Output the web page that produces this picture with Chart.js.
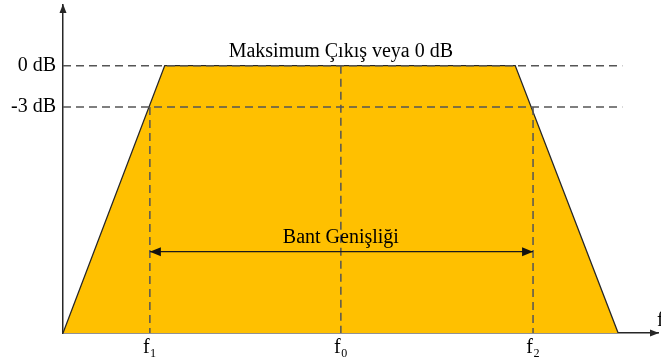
<!DOCTYPE html>
<html>
<head>
<meta charset="utf-8">
<script src="https://cdn.jsdelivr.net/npm/chart.js@4/dist/chart.umd.min.js"></script>
<style>
  html, body { margin: 0; padding: 0; background: #fff; }
  canvas { display: block; }
</style>
</head>
<body>
<canvas id="chart" width="661" height="362"></canvas>
<script>
// response shape: x in frequency units, y in dB
let shapeX = [0, 17.1, 76.0, 93.3];
let shapeY = [-19.4, 0, 0, -19.4];

// level lines
let levelDb = [0, -3];
let levelLabels = ["0 dB", "-3 dB"];
let levelEnd = 94;

// frequency markers
let freqX = [14.6, 46.7, 79.0];
let freqLabels = ["f₁", "f₀", "f₂"];
let freqTop = [-3, 0, -3];

// bandwidth arrow height
let bandY = -13.5;

let yMin = -19.4, yMax = 4.4, xMax = 100;

let serif = "'Liberation Serif', 'Times New Roman', serif";
let dashCol = "#555555";
let lineCol = "#262626";

let datasets = [];

// bandwidth arrow shaft
datasets.push({
  data: [{x: freqX[0], y: bandY}, {x: freqX[2], y: bandY}],
  borderColor: "#1a1a1a", borderWidth: 1.3
});

levelDb.forEach(l => {
  datasets.push({
    data: [{x: 0, y: l}, {x: levelEnd, y: l}],
    borderColor: dashCol, borderWidth: 1.5, borderDash: [8, 5]
  });
});

freqX.forEach((f, i) => {
  datasets.push({
    data: [{x: f, y: freqTop[i]}, {x: f, y: yMin}],
    borderColor: dashCol, borderWidth: 1.5, borderDash: [8, 5]
  });
});

// trapezoid last so it is drawn underneath
datasets.push({
  data: shapeX.map((x, i) => ({x: x, y: shapeY[i]})),
  borderColor: lineCol, borderWidth: 1.3,
  backgroundColor: "#FFC000",
  fill: "start"
});

datasets.forEach(d => {
  d.showLine = true;
  d.pointRadius = 0;
  d.pointHoverRadius = 0;
});

function arrow(ctx, x, y, dir, len, half) {
  ctx.beginPath();
  if (dir === "up") {
    ctx.moveTo(x, y); ctx.lineTo(x - half, y + len); ctx.lineTo(x + half, y + len);
  } else if (dir === "right") {
    ctx.moveTo(x, y); ctx.lineTo(x - len, y - half); ctx.lineTo(x - len, y + half);
  } else {
    ctx.moveTo(x, y); ctx.lineTo(x + len, y - half); ctx.lineTo(x + len, y + half);
  }
  ctx.closePath();
  ctx.fill();
}

let notes = {
  id: "notes",
  afterDraw(chart) {
    let ctx = chart.ctx;
    let xs = chart.scales.x, ys = chart.scales.y;
    let a = chart.chartArea;
    ctx.save();
    ctx.fillStyle = lineCol;
    arrow(ctx, a.left, a.top - 1, "up", 9, 3.5);
    arrow(ctx, a.right + 1, a.bottom, "right", 9, 3.5);

    ctx.fillStyle = "#111";
    let by = ys.getPixelForValue(bandY);
    arrow(ctx, xs.getPixelForValue(freqX[0]), by, "left", 11, 4.5);
    arrow(ctx, xs.getPixelForValue(freqX[2]), by, "right", 11, 4.5);

    ctx.fillStyle = "#000";
    ctx.font = "20px " + serif;
    ctx.textAlign = "center";
    ctx.textBaseline = "alphabetic";
    let cx = xs.getPixelForValue(freqX[1]);
    ctx.fillText("Maksimum Çıkış veya 0 dB", cx, ys.getPixelForValue(0) - 9);
    ctx.fillText("Bant Genişliği", cx, by - 9);

    ctx.textAlign = "left";
    ctx.fillText("f", a.right - 1, a.bottom - 7);
    ctx.restore();
  }
};

new Chart(document.getElementById("chart"), {
  type: "scatter",
  data: {datasets: datasets},
  plugins: [notes],
  options: {
    responsive: false,
    animation: false,
    devicePixelRatio: 1,
    layout: {padding: {top: 5, right: 3, left: 0, bottom: 0}},
    plugins: {legend: {display: false}, tooltip: {enabled: false}},
    scales: {
      x: {
        type: "linear", min: 0, max: xMax,
        grid: {display: false, drawTicks: false, tickLength: 0},
        border: {display: true, color: lineCol, width: 1.5},
        afterBuildTicks: s => { s.ticks = freqX.map(v => ({value: v})); },
        afterFit: s => { s.height = 29; s.paddingLeft = 0; s.paddingRight = 0; },
        ticks: {
          autoSkip: false, maxRotation: 0, padding: 3, color: "#000",
          font: {family: serif, size: 20},
          callback: (v, i) => freqLabels[i]
        }
      },
      y: {
        type: "linear", min: yMin, max: yMax,
        grid: {display: false, drawTicks: false, tickLength: 0},
        border: {display: true, color: lineCol, width: 1.5},
        afterBuildTicks: s => { s.ticks = levelDb.map(v => ({value: v})); },
        afterFit: s => { s.width = 63; s.paddingTop = 0; s.paddingBottom = 0; },
        ticks: {
          padding: 7, color: "#000",
          font: {family: serif, size: 20},
          callback: (v, i) => levelLabels[i]
        }
      }
    }
  }
});
</script>
</body>
</html>
